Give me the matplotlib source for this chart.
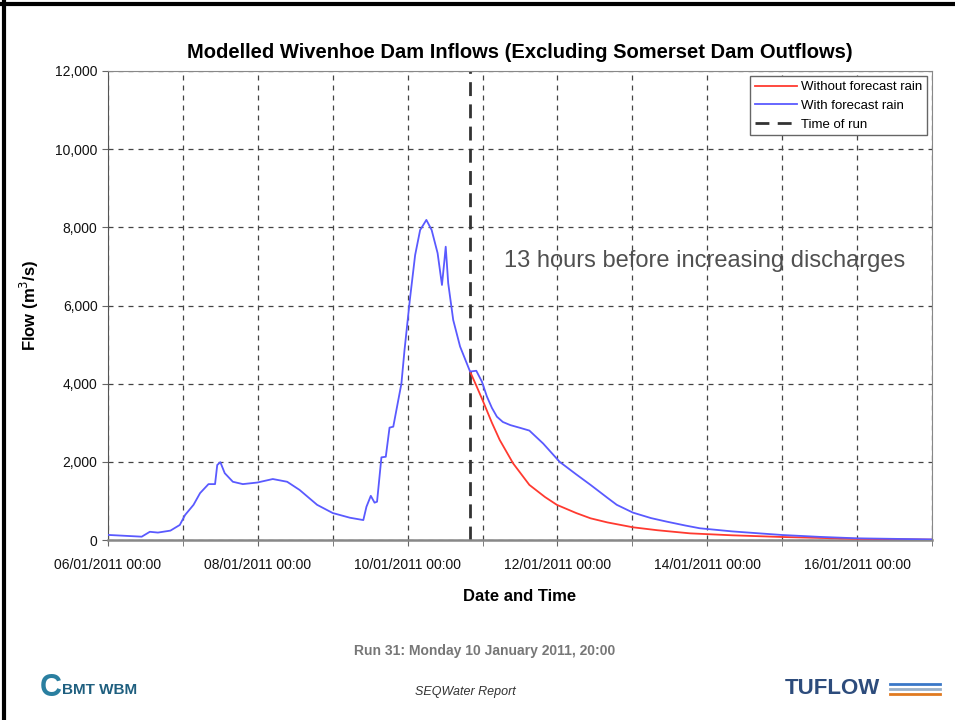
import datetime as dt
import numpy as np
import matplotlib
matplotlib.use("Agg")
import matplotlib.pyplot as plt
import matplotlib.dates as mdates

# ------------------------
# Data (hours after 06/01/2011 00:00, flow m3/s)
# ------------------------
START = dt.datetime(2011, 1, 6)

blue_hours = [0, 10.8, 13.4, 16, 20, 23, 24.7, 27.4, 29.5, 32.2, 34.3, 35, 36, 37.4,
              40, 43.2, 47.8, 52.8, 57.4, 61.4, 67, 72, 77.5, 81.8, 82.8, 84.2, 85.4,
              86.2, 87.6, 89, 90.2, 91.4, 94, 95, 96.7, 98.4, 100, 102, 103.7, 105.6,
              107, 107.8, 108.2, 109, 110.6, 112.8, 116, 118, 119.8, 121.4, 123, 124.6,
              126.5, 128.9, 132, 135, 139.4, 144.7, 150, 154.6, 160, 163, 168.2, 174,
              179, 185, 189.6, 200, 216, 228, 240, 264]
blue_flow = [130, 85, 210, 190, 240, 385, 640, 900, 1200, 1430, 1430, 1920, 1990, 1710,
             1490, 1430, 1470, 1560, 1490, 1280, 900, 690, 570, 510, 850, 1130, 955,
             980, 2115, 2130, 2875, 2900, 4000, 4860, 6140, 7290, 7930, 8190, 7930, 7340,
             6525, 7165, 7505, 6570, 5630, 4950, 4310, 4330, 4050, 3670, 3380, 3155,
             3020, 2940, 2870, 2800, 2470, 2000, 1680, 1410, 1080, 900, 700, 560,
             470, 370, 300, 220, 128, 80, 43, 15]

red_hours = [116, 118, 120, 123, 125.5, 129.8, 135, 140, 143.8, 150, 154.6, 160, 168.2,
             176, 186.5, 200, 216, 240, 264]
red_flow = [4310, 3950, 3580, 3000, 2560, 1960, 1410, 1100, 900, 690, 555, 450, 325,
            250, 170, 120, 77, 30, 10]

run_time = dt.datetime(2011, 1, 10, 20, 0)
tick_days = [6, 8, 10, 12, 14, 16]
y_ticks = [0, 2000, 4000, 6000, 8000, 10000, 12000]

blue_t = [START + dt.timedelta(hours=h) for h in blue_hours]
red_t = [START + dt.timedelta(hours=h) for h in red_hours]

plt.rcParams['font.family'] = ['Liberation Sans', 'DejaVu Sans']

fig = plt.figure(figsize=(9.55, 7.2), dpi=100)
ax = fig.add_axes([108 / 955, 1 - 540 / 720, 824 / 955, 469 / 720])

# ------------------------
# Lines
# ------------------------
ax.plot(red_t, red_flow, color='#ff3a30', lw=1.3, label='Without forecast rain', zorder=3)
ax.plot(blue_t, blue_flow, color='#5a5aff', lw=1.3, label='With forecast rain', zorder=4)
ax.axvline(run_time, color='#333333', lw=2, ls=(0, (5, 3)), label='Time of run', zorder=2)

# ------------------------
# Axes setup
# ------------------------
ax.set_xlim(START, dt.datetime(2011, 1, 17))
ax.set_ylim(0, 12000)
ax.set_xticks([dt.datetime(2011, 1, d) for d in tick_days])
ax.xaxis.set_minor_locator(mdates.DayLocator())
ax.xaxis.set_major_formatter(mdates.DateFormatter('%d/%m/%Y %H:%M'))
ax.set_yticks(y_ticks)
ax.set_yticklabels([f"{v:,}" for v in y_ticks])

ax.grid(True, which='both', axis='x', color='#444444', ls=(0, (4, 4)), lw=0.9)
ax.grid(True, which='major', axis='y', color='#444444', ls=(0, (4, 4)), lw=0.9)
ax.set_axisbelow(True)

for side in ['top', 'right', 'bottom']:
    ax.spines[side].set_color('#888888')
ax.spines['left'].set_color('#555555')
ax.spines['bottom'].set_linewidth(1.8)
ax.tick_params(axis='both', which='both', direction='out', length=4, color='#666666',
               labelsize=10, labelcolor='#111111')
ax.tick_params(axis='x', which='major', pad=9)

ax.set_title('Modelled Wivenhoe Dam Inflows (Excluding Somerset Dam Outflows)',
             fontsize=14.5, fontweight='bold', pad=9)
ax.set_xlabel('Date and Time', fontsize=12, fontweight='bold', labelpad=12)
ax.set_ylabel('Flow (m$^3$/s)', fontsize=12, fontweight='bold', labelpad=10)

leg = ax.legend(loc='upper right', fontsize=9.5, fancybox=False, framealpha=1,
                edgecolor='#666666', handlelength=3.2, borderpad=0.35, labelspacing=0.5,
                handletextpad=0.3, borderaxespad=0.4)
leg.get_frame().set_linewidth(1.0)

ax.text(dt.datetime(2011, 1, 11, 7), 7150, '13 hours before increasing discharges',
        fontsize=17, color='#505050', va='center', ha='left')

# ------------------------
# Slide decorations
# ------------------------
fig.add_artist(plt.Line2D([0, 1], [1 - 4 / 720, 1 - 4 / 720], color='black', lw=3,
                          transform=fig.transFigure))
fig.add_artist(plt.Line2D([4 / 955, 4 / 955], [0, 1], color='black', lw=3,
                          transform=fig.transFigure))

fig.text(485 / 955, 1 - 651 / 720, 'Run 31: Monday 10 January 2011, 20:00',
         ha='center', va='center', fontsize=10, fontweight='bold', color='#777777')
fig.text(465 / 955, 1 - 692 / 720, 'SEQWater Report', ha='center', va='center',
         fontsize=9, style='italic', color='#333333')
fig.text(62 / 955, 1 - 690 / 720, 'BMT WBM', ha='left', va='center', fontsize=11,
         fontweight='bold', color='#1f5f7f')
fig.text(40 / 955, 1 - 688 / 720, 'C', ha='left', va='center', fontsize=22,
         fontweight='bold', color='#2a7fa0')
fig.text(785 / 955, 1 - 689 / 720, 'TUFLOW', ha='left', va='center', fontsize=16,
         fontweight='bold', color='#2d4c7c')
for i, c in enumerate(['#3a78c8', '#9ab0c8', '#e07a20']):
    yy = 1 - (684 + i * 5) / 720
    fig.add_artist(plt.Line2D([890 / 955, 940 / 955], [yy, yy], color=c, lw=2,
                              transform=fig.transFigure))

fig.savefig('out.png', dpi=100)
